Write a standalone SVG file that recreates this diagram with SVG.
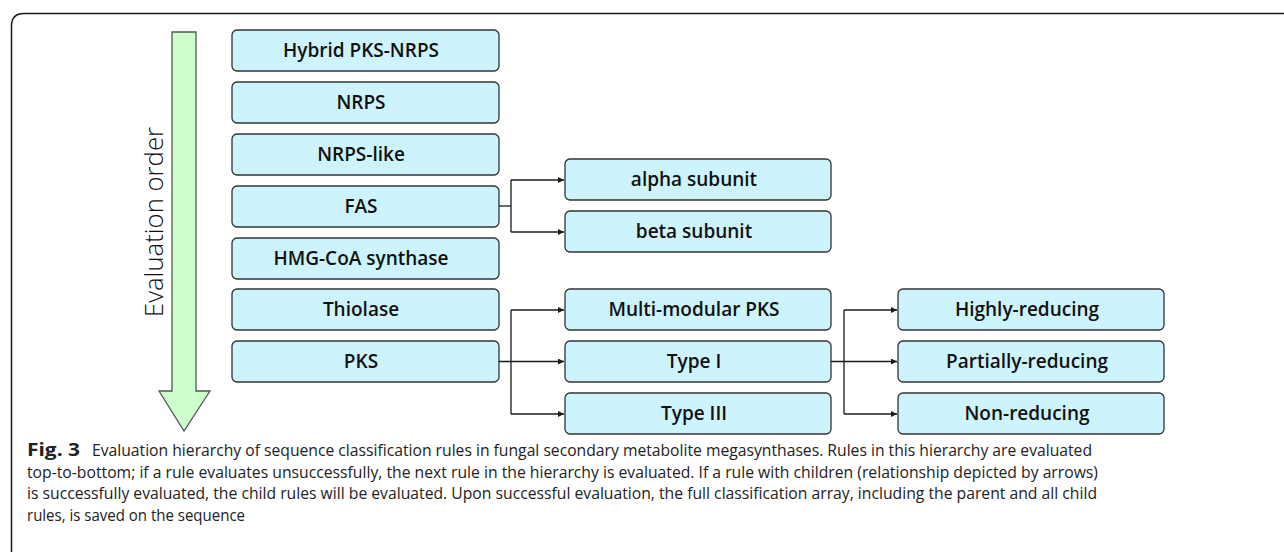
<svg xmlns="http://www.w3.org/2000/svg" width="1284" height="552" viewBox="0 0 1284 552">
  <defs>
    <marker id="tip" viewBox="0 0 10 10" refX="10" refY="5" markerWidth="8" markerHeight="6" markerUnits="userSpaceOnUse" orient="auto">
      <path d="M0,0 L10,5 L0,10 z" fill="#1a1a1a"/>
    </marker>
  </defs>
  <style>
    .box { fill: #cdf3fd; stroke: #333; stroke-width: 1.3; }
    .lbl { font-family: "Open Sans", "Noto Sans", "Liberation Sans", sans-serif; font-weight: 600; font-size: 19px; fill: #111; text-anchor: middle; }
    .wire { fill: none; stroke: #1a1a1a; stroke-width: 1.3; }
    .cap { font-family: "Open Sans", "Noto Sans", "Liberation Sans", sans-serif; font-size: 17px; fill: #222; }
  </style>

  <rect width="1284" height="552" fill="#fff"/>

  <!-- figure frame: top and left rule with rounded corner -->
  <path d="M11.5,552 L11.5,26 Q11.5,13.5 24,13.5 L1284,13.5" fill="none" stroke="#1a1a1a" stroke-width="1.5"/>

  <!-- evaluation order arrow -->
  <g id="order">
    <path d="M172,32 L196,32 L196,391 L210,391 L184,431 L159,391 L172,391 Z" fill="#ccffcc" stroke="#555" stroke-width="1.3"/>
    <text transform="translate(163,222) rotate(-90)" text-anchor="middle" font-family="Open Sans, Noto Sans, Liberation Sans, sans-serif" font-size="25" font-weight="300" fill="#111" textLength="190" lengthAdjust="spacingAndGlyphs">Evaluation order</text>
  </g>

  <!-- first-level rules -->
  <g id="hybrid"><rect class="box" x="232" y="30" width="267" height="41" rx="5"/><text class="lbl" x="361" y="57">Hybrid PKS-NRPS</text></g>
  <g id="nrps"><rect class="box" x="232" y="82" width="267" height="41" rx="5"/><text class="lbl" x="361" y="109">NRPS</text></g>
  <g id="nrps-like"><rect class="box" x="232" y="134" width="267" height="41" rx="5"/><text class="lbl" x="361" y="161">NRPS-like</text></g>
  <g id="fas"><rect class="box" x="232" y="186" width="267" height="41" rx="5"/><text class="lbl" x="361" y="213">FAS</text></g>
  <g id="hmg"><rect class="box" x="232" y="238" width="267" height="41" rx="5"/><text class="lbl" x="361" y="265">HMG-CoA synthase</text></g>
  <g id="thiolase"><rect class="box" x="232" y="289" width="267" height="41" rx="5"/><text class="lbl" x="361" y="316">Thiolase</text></g>
  <g id="pks"><rect class="box" x="232" y="341" width="267" height="41" rx="5"/><text class="lbl" x="361" y="368">PKS</text></g>

  <!-- second-level rules -->
  <g id="alpha"><rect class="box" x="565" y="159" width="266" height="41" rx="5"/><text class="lbl" x="694" y="186">alpha subunit</text></g>
  <g id="beta"><rect class="box" x="565" y="211" width="266" height="41" rx="5"/><text class="lbl" x="694" y="238">beta subunit</text></g>
  <g id="multi"><rect class="box" x="565" y="289" width="266" height="41" rx="5"/><text class="lbl" x="694" y="316">Multi-modular PKS</text></g>
  <g id="type1"><rect class="box" x="565" y="341" width="266" height="41" rx="5"/><text class="lbl" x="694" y="368">Type I</text></g>
  <g id="type3"><rect class="box" x="565" y="393" width="266" height="41" rx="5"/><text class="lbl" x="694" y="420">Type III</text></g>

  <!-- third-level rules -->
  <g id="highly"><rect class="box" x="898" y="289" width="266" height="41" rx="5"/><text class="lbl" x="1027" y="316">Highly-reducing</text></g>
  <g id="partially"><rect class="box" x="898" y="341" width="266" height="41" rx="5"/><text class="lbl" x="1027" y="368">Partially-reducing</text></g>
  <g id="non"><rect class="box" x="898" y="393" width="266" height="41" rx="5"/><text class="lbl" x="1027" y="420">Non-reducing</text></g>

  <!-- parent to child connectors -->
  <g id="connectors">
    <path class="wire" d="M499,206 L511,206"/>
    <path class="wire" d="M511,180 L511,232"/>
    <path class="wire" d="M511,180 L564,180" marker-end="url(#tip)"/>
    <path class="wire" d="M511,232 L564,232" marker-end="url(#tip)"/>

    <path class="wire" d="M511,310 L511,414"/>
    <path class="wire" d="M499,361.5 L564,361.5" marker-end="url(#tip)"/>
    <path class="wire" d="M511,310 L564,310" marker-end="url(#tip)"/>
    <path class="wire" d="M511,414 L564,414" marker-end="url(#tip)"/>

    <path class="wire" d="M844,310 L844,414"/>
    <path class="wire" d="M831,361.5 L897,361.5" marker-end="url(#tip)"/>
    <path class="wire" d="M844,310 L897,310" marker-end="url(#tip)"/>
    <path class="wire" d="M844,414 L897,414" marker-end="url(#tip)"/>
  </g>

  <!-- caption -->
  <g id="caption">
    <text class="cap" x="27" y="456" font-weight="700" font-size="18" fill="#111" textLength="53" lengthAdjust="spacingAndGlyphs">Fig. 3</text>
    <text class="cap" x="92" y="456" textLength="1000" lengthAdjust="spacingAndGlyphs">Evaluation hierarchy of sequence classification rules in fungal secondary metabolite megasynthases. Rules in this hierarchy are evaluated</text>
    <text class="cap" x="27" y="477.5" textLength="1071" lengthAdjust="spacingAndGlyphs">top-to-bottom; if a rule evaluates unsuccessfully, the next rule in the hierarchy is evaluated. If a rule with children (relationship depicted by arrows)</text>
    <text class="cap" x="27" y="499" textLength="1070" lengthAdjust="spacingAndGlyphs">is successfully evaluated, the child rules will be evaluated. Upon successful evaluation, the full classification array, including the parent and all child</text>
    <text class="cap" x="27" y="520.5" textLength="218" lengthAdjust="spacingAndGlyphs">rules, is saved on the sequence</text>
  </g>
</svg>
